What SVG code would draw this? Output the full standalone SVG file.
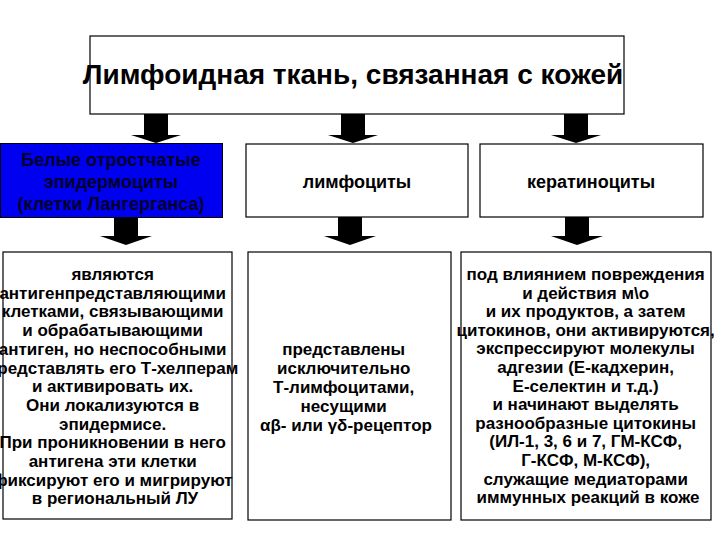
<svg xmlns="http://www.w3.org/2000/svg" width="720" height="540" viewBox="0 0 720 540">
<style>
.box{fill:#fff;stroke:#000;stroke-width:1.2}
.t{font-family:"Liberation Sans",Arial,sans-serif;font-weight:bold;text-anchor:middle;fill:#000}
.b{font-size:17px}
.m{font-size:18px}
.lc{fill:#00002a}
.arr{fill:#000}
</style>
<defs>
<path id="a1" d="M-12,0 H12 V22 H25 L0,30 L-25,22 H-12 Z"/>
<path id="a2" d="M-12,0 H12 V19 H26 L0,28 L-26,19 H-12 Z"/>
</defs>
<rect width="720" height="540" fill="#fff"/>
<g id="connectors">
<use href="#a1" class="arr" x="156" y="113"/>
<use href="#a1" class="arr" x="353" y="113"/>
<use href="#a1" class="arr" x="576" y="113"/>
<use href="#a2" class="arr" x="126" y="217"/>
<use href="#a2" class="arr" x="350" y="217"/>
<use href="#a2" class="arr" x="577" y="217"/>
</g>
<g id="title">
<rect class="box" x="90" y="36" width="534" height="78"/>
<text class="t" x="353" y="84" font-size="28">Лимфоидная ткань, связанная с кожей</text>
</g>
<g id="langerhans">
<rect x="0.5" y="143.5" width="222" height="74" fill="#0000f0" stroke="#000" stroke-width="1"/>
<text class="t m lc" x="111" y="166">Белые отростчатые</text>
<text class="t m lc" x="111" y="188">эпидермоциты</text>
<text class="t m lc" x="111" y="210">(клетки Лангерганса)</text>
</g>
<g id="lymphocytes">
<rect class="box" x="246" y="144" width="222" height="73"/>
<text class="t m" x="357" y="188">лимфоциты</text>
</g>
<g id="keratinocytes">
<rect class="box" x="480" y="144" width="223" height="73"/>
<text class="t m" x="591" y="188">кератиноциты</text>
</g>
<g id="langerhans-desc">
<rect class="box" x="3" y="252" width="229" height="267"/>
<text class="t b">
<tspan x="115" y="280">являются</tspan>
<tspan x="115" y="298.7">антигенпредставляющими</tspan>
<tspan x="115" y="317.4">клетками, связывающими</tspan>
<tspan x="115" y="336.1">и обрабатывающими</tspan>
<tspan x="115" y="354.8">антиген, но неспособными</tspan>
<tspan x="115" y="373.5">представлять его Т-хелперам</tspan>
<tspan x="115" y="392.2">и активировать их.</tspan>
<tspan x="115" y="410.9">Они локализуются в</tspan>
<tspan x="115" y="429.6">эпидермисе.</tspan>
<tspan x="115" y="448.3">При проникновении в него</tspan>
<tspan x="115" y="467">антигена эти клетки</tspan>
<tspan x="115" y="485.7">фиксируют его и мигрируют</tspan>
<tspan x="115" y="504.4">в региональный ЛУ</tspan>
</text>
</g>
<g id="lymphocytes-desc">
<rect class="box" x="248" y="252" width="203" height="268"/>
<text class="t b">
<tspan x="346" y="355">представлены</tspan>
<tspan x="346" y="374">исключительно</tspan>
<tspan x="346" y="393">Т-лимфоцитами,</tspan>
<tspan x="346" y="412">несущими</tspan>
<tspan x="346" y="431">αβ- или γδ-рецептор</tspan>
</text>
</g>
<g id="keratinocytes-desc">
<rect class="box" x="461" y="252" width="250" height="268"/>
<text class="t b">
<tspan x="588" y="280">под влиянием повреждения</tspan>
<tspan x="588" y="298.6">и действия м\о</tspan>
<tspan x="588" y="317.2">и их продуктов, а затем</tspan>
<tspan x="588" y="335.8">цитокинов, они активируются,</tspan>
<tspan x="588" y="354.4">экспрессируют молекулы</tspan>
<tspan x="588" y="373">адгезии (Е-кадхерин,</tspan>
<tspan x="588" y="391.6">Е-селектин и т.д.)</tspan>
<tspan x="588" y="410.2">и начинают выделять</tspan>
<tspan x="588" y="428.8">разнообразные цитокины</tspan>
<tspan x="588" y="447.4">(ИЛ-1, 3, 6 и 7, ГМ-КСФ,</tspan>
<tspan x="588" y="466">Г-КСФ, М-КСФ),</tspan>
<tspan x="588" y="484.6">служащие медиаторами</tspan>
<tspan x="588" y="503.2">иммунных реакций в коже</tspan>
</text>
</g>
</svg>
